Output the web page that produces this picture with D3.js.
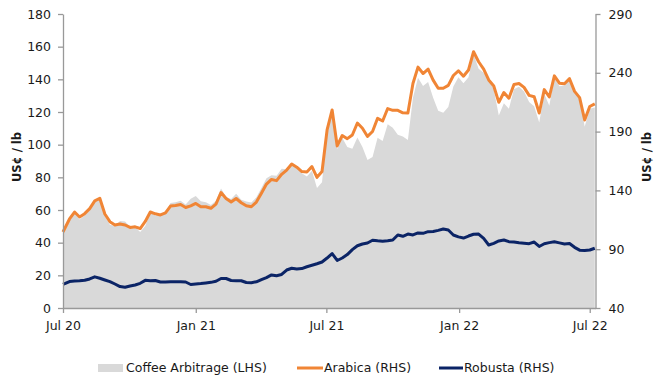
<!DOCTYPE html>
<html>
<head>
<meta charset="utf-8">
<script src="https://cdn.jsdelivr.net/npm/d3@7"></script>
<style>
  html, body { margin: 0; padding: 0; background: #ffffff; }
  svg { display: block; font-family: "DejaVu Sans", Verdana, sans-serif; }
</style>
</head>
<body>
<svg id="chart" width="657" height="376"></svg>
<script>
// Weekly observations, US cents per pound
const dates = [
  "2020-07-01","2020-07-10","2020-07-17","2020-07-24","2020-07-31","2020-08-07","2020-08-14","2020-08-21","2020-08-28",
  "2020-09-04","2020-09-11","2020-09-18","2020-09-25","2020-10-02","2020-10-09","2020-10-16","2020-10-23","2020-10-30",
  "2020-11-06","2020-11-13","2020-11-20","2020-11-27","2020-12-04","2020-12-11","2020-12-18","2020-12-25",
  "2021-01-01","2021-01-08","2021-01-15","2021-01-22","2021-01-29","2021-02-05","2021-02-12","2021-02-19","2021-02-26",
  "2021-03-05","2021-03-12","2021-03-19","2021-03-26","2021-04-02","2021-04-09","2021-04-16","2021-04-23","2021-04-30",
  "2021-05-07","2021-05-14","2021-05-21","2021-05-28","2021-06-04","2021-06-11","2021-06-18","2021-06-25",
  "2021-07-02","2021-07-09","2021-07-16","2021-07-23","2021-07-30","2021-08-06","2021-08-13","2021-08-20","2021-08-27",
  "2021-09-03","2021-09-10","2021-09-17","2021-09-24","2021-10-01","2021-10-08","2021-10-15","2021-10-22","2021-10-29",
  "2021-11-05","2021-11-12","2021-11-19","2021-11-26","2021-12-03","2021-12-10","2021-12-17","2021-12-24","2021-12-31",
  "2022-01-07","2022-01-14","2022-01-21","2022-01-28","2022-02-04","2022-02-11","2022-02-18","2022-02-25",
  "2022-03-04","2022-03-11","2022-03-18","2022-03-25","2022-04-01","2022-04-08","2022-04-15","2022-04-22","2022-04-29",
  "2022-05-06","2022-05-13","2022-05-20","2022-05-27","2022-06-03","2022-06-10","2022-06-17","2022-06-24",
  "2022-07-01","2022-07-08"
];

// Arabica futures (right-hand scale)
const arabica = [
  104.6,115.7,121.6,117.4,120.2,124.5,131.1,133.3,119.9,
  113.4,110.6,111.4,110.6,108.5,109.0,107.6,113.6,121.6,
  120.1,119.1,120.8,126.7,127.1,128.0,125.5,126.9,
  128.9,126.1,126.1,124.8,128.4,138.2,133.1,130.1,133.1,
  129.5,126.9,126.1,130.1,137.6,145.4,149.3,148.3,153.7,
  157.3,162.4,159.7,156.0,155.6,160.3,151.1,156.1,
  191.4,208.4,177.8,186.7,184.0,187.1,197.3,192.9,185.9,
  190.1,201.3,199.0,209.6,208.1,208.1,206.0,205.8,230.9,
  244.8,239.4,243.2,233.8,226.8,226.8,229.3,237.7,241.7,
  237.1,242.4,257.9,249.4,243.2,233.9,228.8,214.9,
  223.2,218.4,230.1,230.9,227.6,220.8,219.6,205.8,225.7,
  219.4,237.4,231.2,230.7,235.0,224.2,218.9,199.9,
  211.3,213.6
];

// Robusta futures (right-hand scale)
const robusta = [
  60.0,62.5,63.0,63.2,63.6,64.7,66.5,65.3,63.8,
  62.4,60.4,58.2,57.6,58.7,59.6,61.0,63.5,63.1,
  63.4,62.1,62.1,62.4,62.4,62.4,62.1,60.0,
  60.4,60.8,61.3,61.8,62.7,65.1,65.1,63.4,63.2,
  63.2,61.7,61.5,62.3,64.2,65.9,68.1,67.4,68.5,
  72.3,73.8,73.2,73.5,75.1,76.3,77.6,79.1,
  82.5,86.3,80.4,82.5,85.4,89.6,92.9,94.4,95.3,
  97.6,97.1,96.7,97.1,97.8,102.1,101.0,102.9,102.1,
  103.8,103.5,104.9,105.1,106.0,107.2,106.3,102.1,100.5,
  99.5,101.2,102.7,102.9,99.2,93.6,95.0,97.0,
  97.8,96.4,96.1,95.5,95.1,94.7,96.1,92.3,94.6,
  95.6,96.3,95.4,94.4,94.8,91.6,89.2,88.9,
  89.3,90.8
];

// Arabica less Robusta (left-hand scale)
const arbitrage = [
  44.6,53.2,58.6,54.2,56.6,59.8,64.6,68.0,56.1,
  51.0,50.2,53.2,53.0,49.8,49.5,46.6,50.2,58.5,
  56.7,57.0,58.7,64.3,64.7,65.6,63.4,66.9,
  68.5,65.3,64.8,63.0,65.7,73.1,68.0,66.7,69.9,
  66.3,65.2,64.6,67.8,73.4,79.5,81.2,80.9,85.2,
  85.0,88.6,86.5,82.5,80.5,84.0,73.5,77.0,
  108.9,122.1,97.4,104.2,98.6,97.5,104.4,98.5,90.6,
  92.5,104.2,102.3,112.5,110.3,106.0,105.0,102.9,128.8,
  141.0,135.9,138.3,128.7,120.8,119.6,123.0,135.6,141.2,
  137.6,141.2,155.3,146.5,144.0,140.3,133.8,117.9,
  125.4,122.0,134.0,135.4,132.5,126.1,123.5,113.5,131.1,
  123.8,141.1,135.8,136.3,140.2,132.6,129.7,111.0,
  122.0,122.8
];

const leftTicks = [0, 20, 40, 60, 80, 100, 120, 140, 160, 180];
const rightTicks = [40, 90, 140, 190, 240, 290];
const xTickDates = ["2020-07-01", "2021-01-01", "2021-07-01", "2022-01-01", "2022-07-01"];
const xTickLabels = ["Jul 20", "Jan 21", "Jul 21", "Jan 22", "Jul 22"];
const xDomain = ["2020-07-01", "2022-07-09"];

const seriesNames = ["Coffee Arbitrage (LHS)", "Arabica (RHS)", "Robusta (RHS)"];
const axisTitle = "US\u00a2 / lb";

// ---- layout & styles ----
const W = 657, H = 376;
const plot = { left: 63, right: 595.5, top: 14, bottom: 308 };
const colors = { arb: "#d9d9d9", arabica: "#f08535", robusta: "#0b2466", axis: "#999999", text: "#1a1a1a" };

const parse = d3.utcParse("%Y-%m-%d");
const rows = dates.map((d, i) => ({ date: parse(d), a: arabica[i], r: robusta[i], s: arbitrage[i] }));

const x = d3.scaleUtc().domain(xDomain.map(parse)).range([plot.left, plot.right]);
const yL = d3.scaleLinear().domain([0, 180]).range([plot.bottom, plot.top]);
const yR = d3.scaleLinear().domain([40, 290]).range([plot.bottom, plot.top]);

const svg = d3.select("#chart");

// Spread area
svg.append("path")
  .datum(rows)
  .attr("fill", colors.arb)
  .attr("d", d3.area().x(d => x(d.date)).y0(yL(0)).y1(d => yL(d.s)));

// Price lines
const line = (key) => d3.line().x(d => x(d.date)).y(d => yR(d[key]));
svg.append("path").datum(rows)
  .attr("fill", "none").attr("stroke", colors.robusta).attr("stroke-width", 3)
  .attr("stroke-linejoin", "round").attr("d", line("r"));
svg.append("path").datum(rows)
  .attr("fill", "none").attr("stroke", colors.arabica).attr("stroke-width", 3)
  .attr("stroke-linejoin", "round").attr("d", line("a"));

// Axes
function styleAxis(g) {
  g.select(".domain").attr("stroke", colors.axis).attr("stroke-width", 1.3);
  g.selectAll(".tick line").attr("stroke", colors.axis).attr("stroke-width", 1.3);
  g.selectAll(".tick text").attr("fill", colors.text)
    .style("font-size", "12.5px").style("font-family", "'DejaVu Sans', Verdana, sans-serif");
}

svg.append("g")
  .attr("transform", `translate(${plot.left},0)`)
  .call(d3.axisLeft(yL).tickValues(leftTicks).tickSize(5).tickSizeOuter(0).tickPadding(7))
  .call(styleAxis);

svg.append("g")
  .attr("transform", `translate(${plot.right},0)`)
  .call(d3.axisRight(yR).tickValues(rightTicks).tickSize(5).tickSizeOuter(0).tickPadding(8))
  .call(styleAxis);

svg.append("g")
  .attr("transform", `translate(0,${plot.bottom})`)
  .call(d3.axisBottom(x).tickValues(xTickDates.map(parse))
    .tickFormat((d, i) => xTickLabels[i]).tickSize(5).tickSizeOuter(0).tickPadding(8))
  .call(styleAxis);

// Axis titles
const midY = 157;
svg.append("text")
  .attr("transform", `translate(21,${midY}) rotate(-90)`)
  .attr("text-anchor", "middle")
  .attr("fill", colors.text)
  .style("font-size", "11.5px").style("font-weight", "bold")
  .text(axisTitle);
svg.append("text")
  .attr("transform", `translate(651,${midY}) rotate(-90)`)
  .attr("text-anchor", "middle")
  .attr("fill", colors.text)
  .style("font-size", "11.5px").style("font-weight", "bold")
  .text(axisTitle);

// Legend
const legendY = 368;
const legend = svg.append("g").style("font-size", "12.5px").attr("fill", colors.text);
legend.append("rect").attr("x", 98).attr("y", legendY - 4).attr("width", 25).attr("height", 8).attr("fill", colors.arb);
legend.append("text").attr("x", 126).attr("y", legendY).attr("dy", "0.35em").text(seriesNames[0]);
legend.append("line").attr("x1", 297).attr("x2", 323).attr("y1", legendY).attr("y2", legendY)
  .attr("stroke", colors.arabica).attr("stroke-width", 3);
legend.append("text").attr("x", 324).attr("y", legendY).attr("dy", "0.35em").text(seriesNames[1]);
legend.append("line").attr("x1", 439).attr("x2", 463).attr("y1", legendY).attr("y2", legendY)
  .attr("stroke", colors.robusta).attr("stroke-width", 3);
legend.append("text").attr("x", 464).attr("y", legendY).attr("dy", "0.35em").text(seriesNames[2]);
</script>
</body>
</html>
